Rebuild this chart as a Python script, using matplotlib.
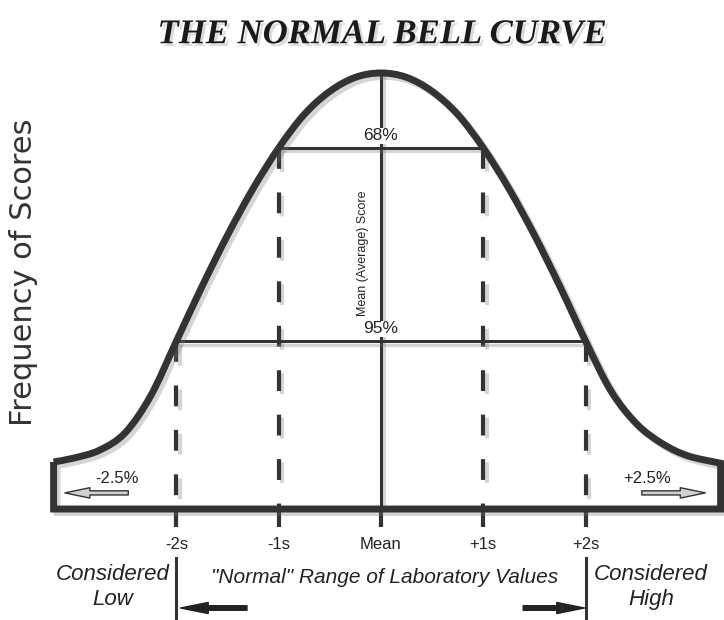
import matplotlib
matplotlib.use("Agg")
import matplotlib.pyplot as plt
import matplotlib.patheffects as pe
from matplotlib.path import Path
from matplotlib.patches import PathPatch

plt.rcParams['font.family'] = ['Liberation Sans', 'DejaVu Sans']
plt.rcParams['lines.scale_dashes'] = False

# curve heights (x in standard deviations, height relative to peak)
curve_x = [-3.2, -3.0, -2.75, -2.5, -2.25, -2.0, -1.75, -1.5, -1.25, -1.0, -0.75, -0.5, -0.25,
           0.0, 0.25, 0.5, 0.75, 1.0, 1.25, 1.5, 1.75, 2.0, 2.25, 2.5, 2.75, 3.0, 3.32]
curve_h = [0.108, 0.117, 0.135, 0.175, 0.26, 0.385, 0.51, 0.628, 0.735, 0.828, 0.905, 0.958, 0.99,
           1.0, 0.99, 0.958, 0.905, 0.828, 0.735, 0.628, 0.51, 0.385, 0.27, 0.195, 0.15, 0.122, 0.105]

tick_pos = [-2, -1, 0, 1, 2]
tick_labels = ['-2s', '-1s', 'Mean', '+1s', '+2s']
band_s = [1, 2]
band_labels = ['68%', '95%']
tail_labels = ['-2.5%', '+2.5%']

dark = '#333333'
shadow = [pe.SimpleLineShadow(offset=(2.5, -2.5), shadow_color='#777777', alpha=0.3), pe.Normal()]

fig = plt.figure(figsize=(7.24, 6.2), dpi=100)
ax = fig.add_axes([0, 0.179, 1, 0.821])
ax.set_xlim(-3.724, 3.353)
ax.set_ylim(0, 1.1674)
for sp in ax.spines.values():
    sp.set_visible(False)
ax.set_yticks([])

# bell curve drawn as a smooth path through the read points, then the box outline
pts = list(zip(curve_x, curve_h))
verts = [pts[0]]
codes = [Path.MOVETO]
n = len(pts)
for i in range(n - 1):
    p0 = pts[max(i - 1, 0)]
    p1, p2 = pts[i], pts[i + 1]
    p3 = pts[min(i + 2, n - 1)]
    c1 = (p1[0] + (p2[0] - p0[0]) / 6, p1[1] + (p2[1] - p0[1]) / 6)
    c2 = (p2[0] - (p3[0] - p1[0]) / 6, p2[1] - (p3[1] - p1[1]) / 6)
    verts += [c1, c2, p2]
    codes += [Path.CURVE4] * 3
box_l, box_r = curve_x[0], curve_x[-1]
verts += [(box_r, 0), (box_l, 0), (box_l, curve_h[0])]
codes += [Path.LINETO] * 3
ax.add_patch(PathPatch(Path(verts, codes), fill=False, ec=dark, lw=5, joinstyle='miter',
                       clip_on=False, zorder=5, path_effects=shadow))

# mean line
ax.plot([0, 0], [0, 1], color=dark, lw=2.2, zorder=3, path_effects=shadow)

# 68% / 95% bands
for s, lab in zip(band_s, band_labels):
    h = curve_h[curve_x.index(float(s))]
    ax.plot([-s, s], [h, h], color=dark, lw=2.2, zorder=3, path_effects=shadow)
    ax.text(0, h + 0.028, lab, ha='center', va='center', fontsize=12.5, color='#222222', zorder=4,
            bbox=dict(fc='white', ec='none', pad=0.5))
    for sx in (-s, s):
        ax.plot([sx, sx], [h, 0], color=dark, lw=3, ls=(0, (15, 17)), zorder=2, path_effects=shadow)

ax.text(-0.176, 0.587, 'Mean (Average) Score', rotation=90, ha='center', va='center', fontsize=9,
        color='#222222', family=['Liberation Sans Narrow', 'Liberation Sans'])

# x ticks
ax.set_xticks(tick_pos, tick_labels)
ax.tick_params(axis='x', length=13, width=3, color=dark, pad=7, labelsize=12, labelcolor='#222222')

# tail areas
hollow = dict(arrowstyle='simple,head_length=1.8,head_width=0.75,tail_width=0.3',
              fc='#d0d0d0', ec=dark, lw=1, shrinkA=0, shrinkB=0, mutation_scale=10)
ax.text(-2.58, 0.071, tail_labels[0], ha='center', va='center', fontsize=12, color='#222222')
ax.annotate('', xy=(-3.09, 0.037), xytext=(-2.47, 0.037), arrowprops=hollow)
ax.text(2.60, 0.071, tail_labels[1], ha='center', va='center', fontsize=12, color='#222222')
ax.annotate('', xy=(3.17, 0.037), xytext=(2.55, 0.037), arrowprops=hollow)

# bottom annotations
ax.text(-2.62, -0.179, 'Considered\nLow', ha='center', va='center', fontsize=16, style='italic',
        linespacing=1.3, color='#222222')
ax.text(2.64, -0.179, 'Considered\nHigh', ha='center', va='center', fontsize=16, style='italic',
        linespacing=1.3, color='#222222')
ax.text(0.04, -0.158, '"Normal" Range of Laboratory Values', ha='center', va='center', fontsize=15,
        style='italic', color='#222222')
for s in (-2, 2):
    ax.plot([s, s], [-0.112, -0.26], color=dark, lw=2.2, clip_on=False)
solid = dict(arrowstyle='simple,head_length=2.0,head_width=0.8,tail_width=0.33',
             fc='#222222', ec='#222222', shrinkA=0, shrinkB=0, mutation_scale=10)
ax.annotate('', xy=(-1.96, -0.227), xytext=(-1.31, -0.227), arrowprops=solid, annotation_clip=False)
ax.annotate('', xy=(1.99, -0.227), xytext=(1.39, -0.227), arrowprops=solid, annotation_clip=False)

# title and axis label
fig.text(0.528, 0.944, 'THE NORMAL BELL CURVE', ha='center', va='center', fontsize=25,
         family='Liberation Serif', weight='bold', style='italic', color='#1a1a1a',
         path_effects=[pe.withSimplePatchShadow(offset=(2, -2), shadow_rgbFace='#999999', alpha=0.35)])
fig.text(0.033, 0.561, 'Frequency of Scores', rotation=90, ha='center', va='center', fontsize=22,
         family='DejaVu Sans', color=dark)

fig.savefig('out.png', dpi=100, facecolor='white')
